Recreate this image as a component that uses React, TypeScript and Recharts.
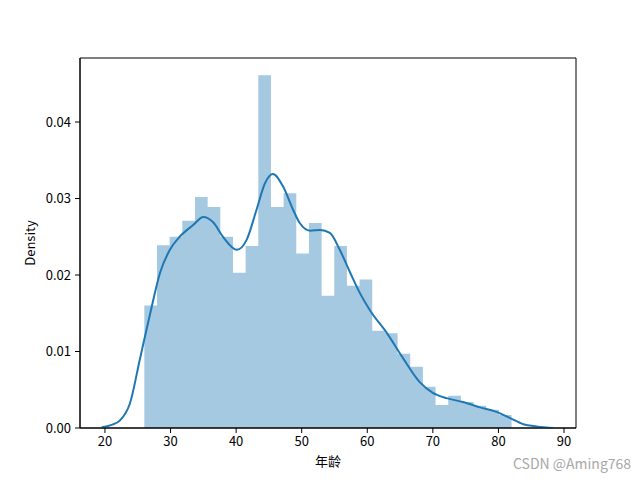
import React from 'react';
import { ComposedChart, Area, Line, XAxis, YAxis, ReferenceArea } from 'recharts';

// Histogram: 29 bins between age 26 and 82
const binStart = 26;
const binEnd = 82;
const densities = [
  0.016, 0.0239, 0.025, 0.0271, 0.0302, 0.0289, 0.025, 0.0203, 0.0238, 0.0461,
  0.0289, 0.0307, 0.0228, 0.0268, 0.0173, 0.0238, 0.0186, 0.0194, 0.0127, 0.0124,
  0.0097, 0.008, 0.0054, 0.003, 0.0042, 0.0034, 0.0029, 0.0024, 0.0017,
];

// KDE curve
const kdeX = [
  19.5, 21, 22.3, 23.8, 25.3, 26.9, 28.4, 29.9, 31.4, 33.4, 35.0, 36.5, 38.0, 40.1,
  41.6, 43.1, 44.4, 45.6, 47.2, 48.7, 49.7, 51.3, 52.8, 54.3, 55.8, 57.4, 58.9, 60.4,
  63.0, 65.4, 68.0, 70.0, 72.1, 74.6, 77.2, 79.7, 81.8, 83.8, 85.8, 88.4,
];
const kdeY = [
  0.0001, 0.0004, 0.001, 0.0032, 0.0089, 0.015, 0.0203, 0.0233, 0.025, 0.0265, 0.0276,
  0.0269, 0.025, 0.0233, 0.0246, 0.0285, 0.032, 0.0332, 0.0315, 0.0285, 0.0268, 0.0258,
  0.0259, 0.0255, 0.0233, 0.0203, 0.0176, 0.0154, 0.0124, 0.0092, 0.006, 0.0046, 0.0039,
  0.0034, 0.0027, 0.0021, 0.0013, 0.0005, 0.0002, 0.0,
];

const xTicks = [20, 30, 40, 50, 60, 70, 80, 90];
const yTicks = [0, 0.01, 0.02, 0.03, 0.04];

const xDomain: [number, number] = [16.19, 91.83];
const yDomain: [number, number] = [0, 0.04837];

const binWidth = (binEnd - binStart) / densities.length;
const histData = densities.map((d, i) => ({ x: binStart + i * binWidth, d }));
histData.push({ x: binEnd, d: densities[densities.length - 1] });
const kdeData = kdeX.map((x, i) => ({ x, k: kdeY[i] }));

const FONT = '"Noto Sans CJK SC", "DejaVu Sans", sans-serif';
const tickStyle = { fontSize: 13, fill: '#000', fontFamily: FONT };

export default function App() {
  return (
    <div style={{ position: 'absolute', left: 0, top: 0, width: 640, height: 480, background: '#fff' }}>
      <ComposedChart width={640} height={480} margin={{ top: 58, right: 64, bottom: 8, left: 0 }}>
        <XAxis
          type="number"
          dataKey="x"
          domain={xDomain}
          ticks={xTicks}
          allowDataOverflow
          height={44}
          tickSize={5}
          tickMargin={4}
          tick={tickStyle}
          stroke="#000"
          tickLine={{ stroke: '#000' }}
          axisLine={{ stroke: '#000' }}
          label={{ value: '年龄', position: 'insideBottom', offset: 6, style: { fontSize: 13, fill: '#000', fontFamily: FONT } }}
        />
        <YAxis
          type="number"
          domain={yDomain}
          ticks={yTicks}
          allowDataOverflow
          width={80}
          tickSize={5}
          tickMargin={4}
          tick={tickStyle}
          tickFormatter={(v: number) => v.toFixed(2)}
          stroke="#000"
          tickLine={{ stroke: '#000' }}
          axisLine={{ stroke: '#000' }}
          label={{ value: 'Density', angle: -90, position: 'insideLeft', offset: 30, textAnchor: 'middle', style: { fontSize: 13, fill: '#000', fontFamily: FONT, textAnchor: 'middle' } }}
        />
        <Area
          data={histData}
          dataKey="d"
          type="stepAfter"
          fill="#a5c9e1"
          fillOpacity={1}
          stroke="none"
          isAnimationActive={false}
          dot={false}
          activeDot={false}
        />
        <Line
          data={kdeData}
          dataKey="k"
          type="monotone"
          stroke="#1f77b4"
          strokeWidth={2}
          dot={false}
          activeDot={false}
          isAnimationActive={false}
        />
        <ReferenceArea
          x1={xDomain[0]}
          x2={xDomain[1]}
          y1={yDomain[0]}
          y2={yDomain[1]}
          fill="none"
          stroke="#000"
          strokeWidth={1}
          ifOverflow="visible"
        />
      </ComposedChart>
      <div
        style={{
          position: 'absolute',
          left: 513,
          top: 453,
          fontSize: 14,
          lineHeight: '20px',
          color: '#a8a8a8',
          fontFamily: FONT,
          whiteSpace: 'nowrap',
        }}
      >
        CSDN @Aming768
      </div>
    </div>
  );
}
